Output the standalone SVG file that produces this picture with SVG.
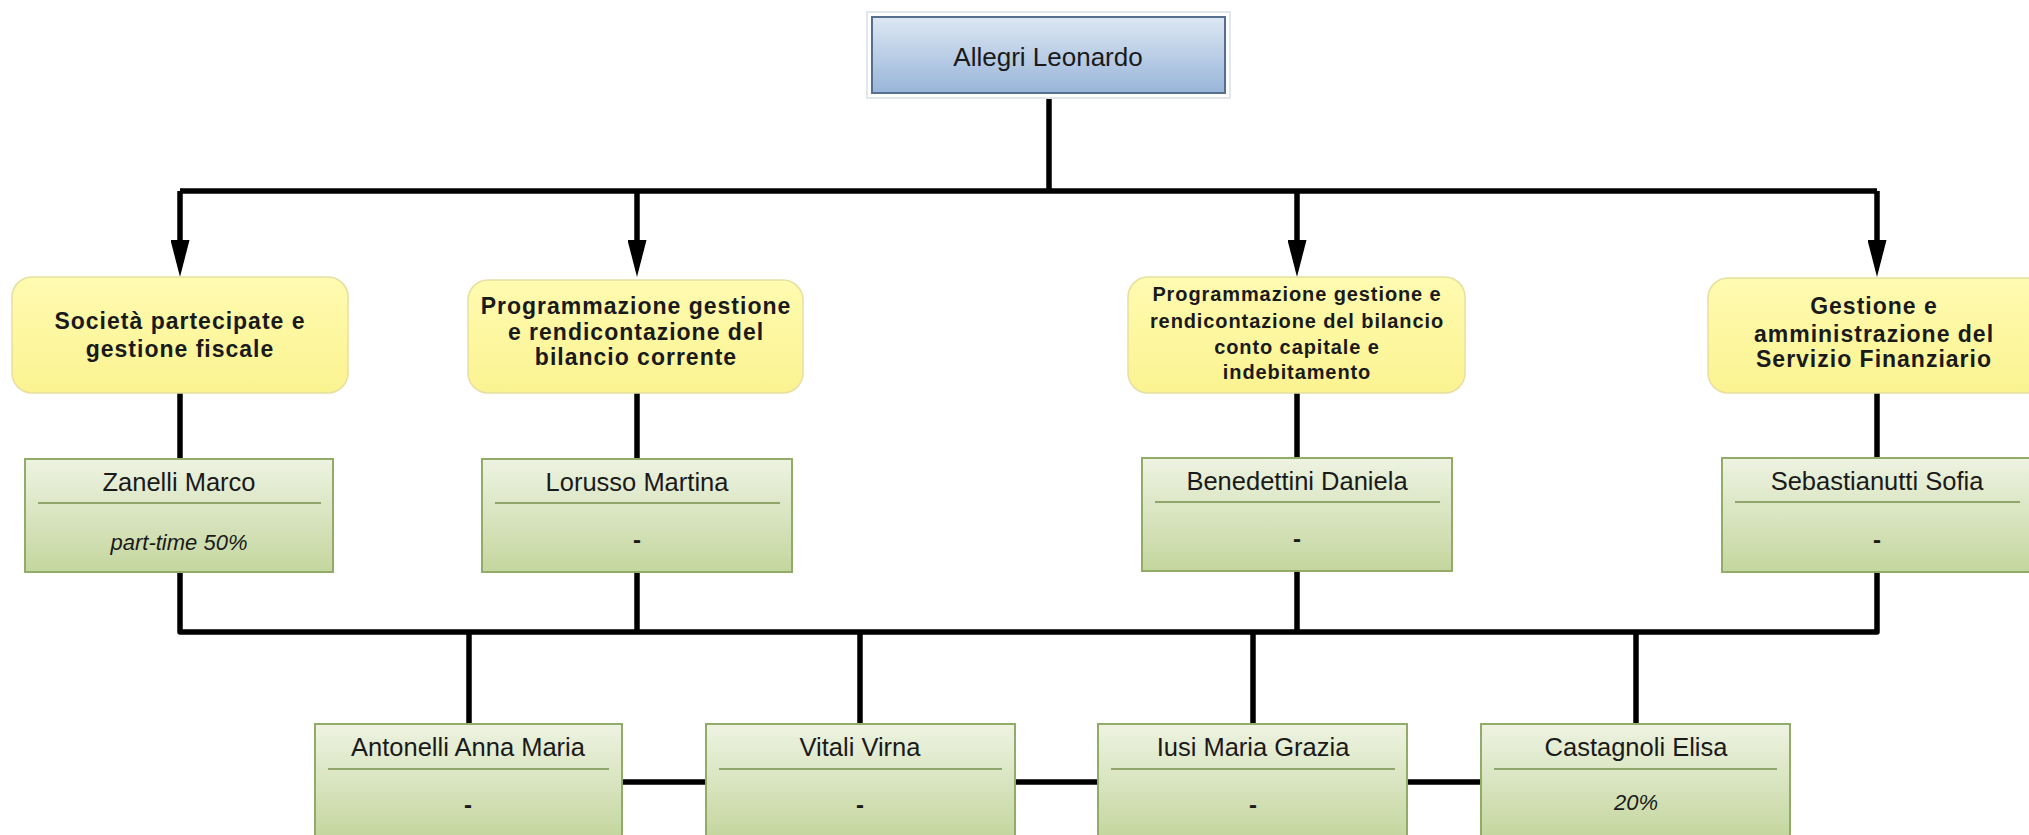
<svg xmlns="http://www.w3.org/2000/svg" width="2029" height="835" viewBox="0 0 2029 835">
<defs>
<linearGradient id="gBlue" x1="0" y1="0" x2="0" y2="1"><stop offset="0" stop-color="#dde7f3"/><stop offset="1" stop-color="#98b5d9"/></linearGradient>
<linearGradient id="gYel" x1="0" y1="0" x2="0" y2="1"><stop offset="0" stop-color="#fffbb0"/><stop offset="1" stop-color="#fbf391"/></linearGradient>
<linearGradient id="gGrn" x1="0" y1="0" x2="0" y2="1"><stop offset="0" stop-color="#eef3e2"/><stop offset="1" stop-color="#c4d69e"/></linearGradient>
<marker id="arr" viewBox="0 0 37 19" refX="2" refY="9.5" markerWidth="37" markerHeight="19" markerUnits="userSpaceOnUse" orient="auto">
<path d="M0,0 L37,9.5 L0,19 Z" fill="#000"/>
</marker>
<style>
.line{fill:none;stroke:#000;stroke-width:5.5;stroke-linejoin:round}
.yel{fill:url(#gYel);stroke:#e6dfa0;stroke-width:1.5}
.grn{fill:url(#gGrn);stroke:#93ab68;stroke-width:2}
.sep{stroke:#8fa569;stroke-width:2}
.t{font-family:"Liberation Sans",Arial,sans-serif;fill:#1a1a1a;text-anchor:middle}
.b{font-weight:bold;font-size:23px;letter-spacing:1px}
.b3{font-weight:bold;font-size:20px;letter-spacing:0.9px}
.n{font-size:25.5px}
.i{font-size:22px;font-style:italic}
.d{font-size:24px;font-weight:bold}
</style>
</defs>
<rect width="2029" height="835" fill="#fff"/>
<g id="connectors">
<path class="line" d="M1049,94 V191"/>
<path class="line" d="M180,191 H1877"/>
<path class="line" d="M180,191 V242" marker-end="url(#arr)"/>
<path class="line" d="M637,191 V242" marker-end="url(#arr)"/>
<path class="line" d="M1297,191 V242" marker-end="url(#arr)"/>
<path class="line" d="M1877,191 V242" marker-end="url(#arr)"/>
<path class="line" d="M180,393 V459 M637,393 V459 M1297,393 V459 M1877,393 V459"/>
<path class="line" d="M180,572 V632 H1877 V572 M637,572 V632 M1297,572 V632"/>
<path class="line" d="M469,632 V724 M860,632 V724 M1253,632 V724 M1636,632 V724"/>
<path class="line" d="M622,782 H706 M1015,782 H1098 M1407,782 H1481"/>
</g>
<g id="n-allegri">
<rect x="867" y="12" width="363" height="86" fill="#fff" stroke="#dfe6ee" stroke-width="2"/>
<rect x="872" y="17" width="353" height="76" fill="url(#gBlue)" stroke="#566f8e" stroke-width="2"/>
<text class="t" x="1048" y="66" font-size="26">Allegri Leonardo</text>
</g>
<g id="y-societa">
<rect class="yel" x="12" y="277" width="336" height="116" rx="20"/>
<text class="t b" x="180" y="329">Società partecipate e</text>
<text class="t b" x="180" y="357">gestione fiscale</text>
</g>
<g id="y-corrente">
<rect class="yel" x="468" y="280" width="335" height="113" rx="20"/>
<text class="t b" x="636" y="314">Programmazione gestione</text>
<text class="t b" x="636" y="340">e rendicontazione del</text>
<text class="t b" x="636" y="365">bilancio corrente</text>
</g>
<g id="y-capitale">
<rect class="yel" x="1128" y="277" width="337" height="116" rx="20"/>
<text class="t b3" x="1297" y="301">Programmazione gestione e</text>
<text class="t b3" x="1297" y="328">rendicontazione del bilancio</text>
<text class="t b3" x="1297" y="354">conto capitale e</text>
<text class="t b3" x="1297" y="379">indebitamento</text>
</g>
<g id="y-gestione">
<rect class="yel" x="1708" y="278" width="340" height="115" rx="20"/>
<text class="t b" x="1874" y="314">Gestione e</text>
<text class="t b" x="1874" y="342">amministrazione del</text>
<text class="t b" x="1874" y="367">Servizio Finanziario</text>
</g>
<g id="g-zanelli">
<rect class="grn" x="25" y="459" width="308" height="113"/>
<line class="sep" x1="38" y1="503" x2="321" y2="503"/>
<text class="t n" x="179" y="491">Zanelli Marco</text>
<text class="t i" x="179" y="550">part-time 50%</text>
</g>
<g id="g-lorusso">
<rect class="grn" x="482" y="459" width="310" height="113"/>
<line class="sep" x1="495" y1="503" x2="780" y2="503"/>
<text class="t n" x="637" y="491">Lorusso Martina</text>
<text class="t d" x="637" y="548">-</text>
</g>
<g id="g-benedettini">
<rect class="grn" x="1142" y="458" width="310" height="113"/>
<line class="sep" x1="1155" y1="502" x2="1440" y2="502"/>
<text class="t n" x="1297" y="490">Benedettini Daniela</text>
<text class="t d" x="1297" y="547">-</text>
</g>
<g id="g-sebastianutti">
<rect class="grn" x="1722" y="458" width="310" height="114"/>
<line class="sep" x1="1735" y1="502" x2="2020" y2="502"/>
<text class="t n" x="1877" y="490">Sebastianutti Sofia</text>
<text class="t d" x="1877" y="548">-</text>
</g>
<g id="g-antonelli">
<rect class="grn" x="315" y="724" width="307" height="114"/>
<line class="sep" x1="328" y1="769" x2="609" y2="769"/>
<text class="t n" x="468" y="756">Antonelli Anna Maria</text>
<text class="t d" x="468" y="813">-</text>
</g>
<g id="g-vitali">
<rect class="grn" x="706" y="724" width="309" height="114"/>
<line class="sep" x1="719" y1="769" x2="1002" y2="769"/>
<text class="t n" x="860" y="756">Vitali Virna</text>
<text class="t d" x="860" y="813">-</text>
</g>
<g id="g-iusi">
<rect class="grn" x="1098" y="724" width="309" height="114"/>
<line class="sep" x1="1111" y1="769" x2="1395" y2="769"/>
<text class="t n" x="1253" y="756">Iusi Maria Grazia</text>
<text class="t d" x="1253" y="813">-</text>
</g>
<g id="g-castagnoli">
<rect class="grn" x="1481" y="724" width="309" height="114"/>
<line class="sep" x1="1494" y1="769" x2="1777" y2="769"/>
<text class="t n" x="1636" y="756">Castagnoli Elisa</text>
<text class="t i" x="1636" y="810">20%</text>
</g>
</svg>
